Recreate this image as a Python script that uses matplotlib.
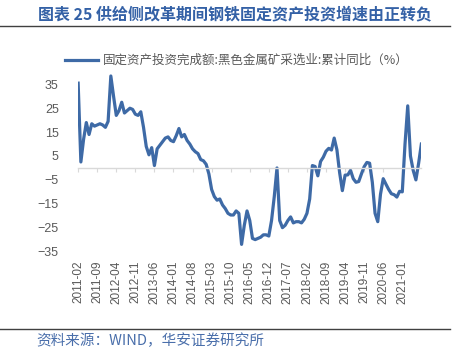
import numpy as np
import pandas as pd
import matplotlib
matplotlib.use("Agg")
import matplotlib.pyplot as plt
from matplotlib.lines import Line2D

plt.rcParams['font.family'] = ['Noto Sans CJK SC', 'DejaVu Sans']

# monthly cumulative YoY growth, 2011-02 .. 2021-08
months = pd.date_range("2011-02", periods=127, freq="MS").strftime("%Y-%m").tolist()
growth = [
    35.5, 2.5, 12, 19, 14, 18.5, 17.5, 18, 18.5, 18, 17, 19.5,
    38.5, 30, 22, 24, 27.5, 23, 24, 25, 24.5, 22.5, 22, 23.5,
    17, 9, 5.5, 8.5, 1, 8, 9.5, 11, 12.5, 13, 11.5, 11,
    13.5, 16.5, 13, 14, 11.5, 10, 8, 6.8, 6, 3.5, 3, 1.5,
    -2.5, -9, -12, -13.5, -13, -15.5, -17, -19, -19.7, -19.7, -18, -19,
    -32, -24, -18, -22, -29.5, -30, -29.5, -29, -28, -28, -28.5, -22,
    -12, 0, -22, -25, -24, -22, -20.5, -23, -22.5, -22.5, -23, -21.5,
    -19, -13, 1, 0.6, -3.3, 2.7, 4.5, 7, 8.2, 7.5, 12.5, 7.6,
    -2, -9.5, -3, -2.9, -1, -4.5, -6, -5.7, -2.5, 0.5, 2.3, 2,
    -6, -19, -22.5, -11, -4.5, -6.8, -9, -10.8, -11.2, -12.2, -9.8, -10,
    10, 26, 5, -1, -5, 2, 10,
]
yticks = [35, 25, 15, 5, -5, -15, -25, -35]
series_name = "固定资产投资完成额:黑色金属矿采选业:累计同比（%）"

blue = "#3e6aa6"
grey = "#595959"

fig = plt.figure(figsize=(4.57, 3.59), dpi=100)
ax = fig.add_axes([0.171, 0.29, 0.751, 0.515])

x = np.arange(len(growth))
ax.plot(x, growth, color=blue, linewidth=2.3, solid_joinstyle='round')

ax.set_xlim(0, len(growth) - 1)
ax.set_ylim(-36.4, 41)
ax.set_yticks(yticks)
ax.tick_params(axis='y', length=0, labelsize=9, labelcolor=grey, pad=14)
for lab in ax.get_yticklabels():
    lab.set_fontfamily('Liberation Sans')

for s in ['top', 'right', 'left']:
    ax.spines[s].set_visible(False)
ax.spines['bottom'].set_position(('data', 0))
ax.spines['bottom'].set_color('#d9d9d9')
ax.spines['bottom'].set_linewidth(1.0)

tick_pos = x[:120:7]
ax.set_xticks(tick_pos)
ax.tick_params(axis='x', length=3, color='#d9d9d9', labelbottom=False)

sec = ax.secondary_xaxis('bottom')
sec.set_xticks(tick_pos, [months[i] for i in tick_pos], rotation=90,
               fontsize=8.5, color=grey, fontfamily='Liberation Sans')
sec.tick_params(length=0, pad=4)
sec.spines['bottom'].set_visible(False)

# legend
fig.add_artist(Line2D([65 / 457, 98 / 457], [1 - 60 / 359] * 2, color=blue, linewidth=2.3))
fig.text(103 / 457, 1 - 60 / 359, series_name, fontsize=9, color=grey, va='center')

# title and rules
fig.text(38 / 457, 1 - 14 / 359, "图表 25 供给侧改革期间钢铁固定资产投资增速由正转负",
         fontsize=11.5, fontweight='bold', color="#3461a6", va='center')
fig.add_artist(Line2D([0, 450 / 457], [1 - 26 / 359] * 2, color='#404040', linewidth=1.0))
fig.add_artist(Line2D([0, 450 / 457], [1 - 329 / 359] * 2, color='#404040', linewidth=1.0))
fig.text(36 / 457, 1 - 341 / 359, "资料来源：WIND，华安证券研究所",
         fontsize=10.5, color="#4a6fab", va='center')

fig.savefig("out.png", dpi=100)
